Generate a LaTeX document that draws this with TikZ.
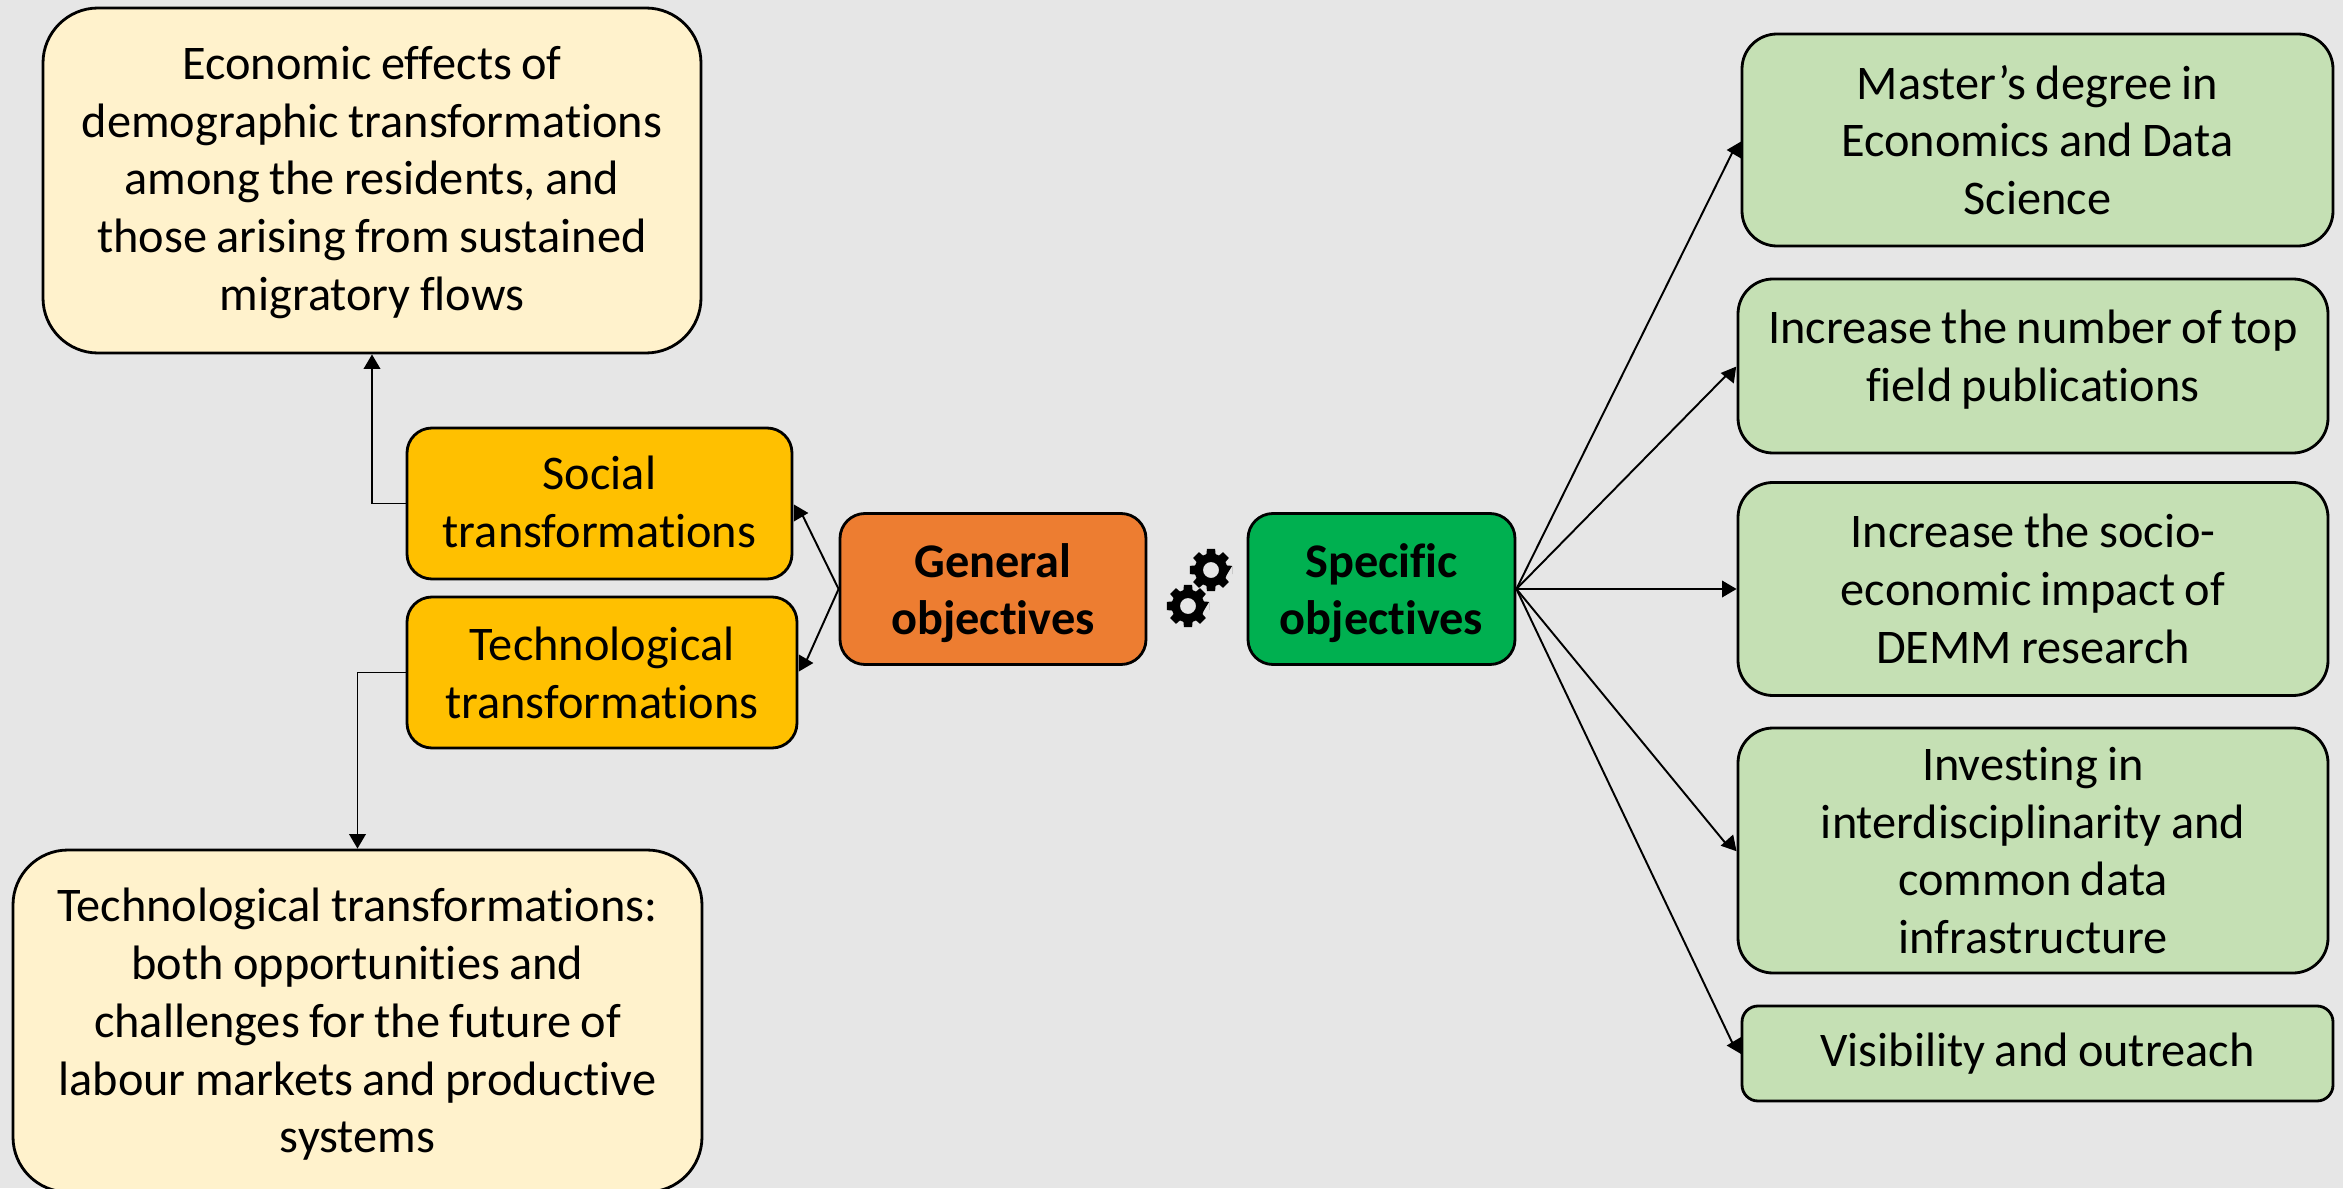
\documentclass[tikz,border=0pt]{standalone}
\usepackage{fontspec}
\setmainfont[Ligatures=CommonOff,WordSpace=0.85]{Carlito}
\usetikzlibrary{calc,arrows.meta,shapes.misc}

\definecolor{bggray}{HTML}{E6E6E6}
\definecolor{creambox}{HTML}{FFF2CC}
\definecolor{goldbox}{HTML}{FFC000}
\definecolor{orangebox}{HTML}{ED7D31}
\definecolor{greenbox}{HTML}{00B050}
\definecolor{palegreen}{HTML}{C5E0B4}

% invisible rules that nudge a text up or down in its box
\newcommand{\tall}[1]{\rule{0pt}{#1pt}}
\newcommand{\deep}[1]{\rule[-#1pt]{0pt}{#1pt}}

\begin{document}
\begin{tikzpicture}[
        box/.style={
            draw=black, line width=0.8pt, rectangle, rounded corners=#1,
            inner sep=0pt, align=center, text=black,
            font=\fontsize{13.75}{16.45}\selectfont
        },
        box/.default=0.25cm,
        theme/.style={box=0.55cm, fill=creambox},
        sub/.style={box=0.25cm, fill=goldbox},
        goal/.style={box=0.35cm, fill=palegreen},
        link/.style={line width=0.55pt, black, -{Triangle[length=1.45mm,width=1.65mm]}},
        gear/.pic={
            \fill[even odd rule] (11:0.215)
              \foreach \a in {0,45,...,315} {
                -- (\a-11:0.215) -- (\a+11:0.215) -- (\a+16:0.165) -- (\a+29:0.165)
              } -- cycle (0,0) circle (0.08);
        }
      ]

  \fill[bggray] (0,0) rectangle (23.43,11.88);
  \useasboundingbox (0,0) rectangle (23.43,11.88);

  \node[theme, minimum width=6.58cm, minimum height=3.45cm] (econ) at (3.72,10.075)
    {\tall{10.6}Economic effects of\\demographic transformations\\among the residents, and\\those arising from sustained\\migratory flows};
  \node[theme, minimum width=6.89cm, minimum height=3.42cm] (techtext) at (3.575,1.67)
    {\tall{11.5}Technological transformations:\\both opportunities and\\challenges for the future of\\labour markets and productive\\systems};

  \node[sub, minimum width=3.85cm, minimum height=1.51cm] (social) at (5.995,6.845) {Social\\transformations\deep{0.95}};
  \node[sub, minimum width=3.90cm, minimum height=1.51cm] (tech) at (6.02,5.155) {Technological\\transformations};

  \node[box, fill=orangebox, minimum width=3.06cm, minimum height=1.51cm] (general) at (9.93,5.99) {\tall{12.0}\textbf{General}\\\textbf{objectives}};
  \node[box, fill=greenbox, minimum width=2.67cm, minimum height=1.51cm] (specific) at (13.815,5.99) {\tall{12.0}\textbf{Specific}\\\textbf{objectives}};

  \node[goal, minimum width=5.91cm, minimum height=2.12cm] (master) at (20.375,10.48) {Master’s degree in\\Economics and Data\\Science};
  \node[goal, minimum width=5.90cm, minimum height=1.74cm] (topfield) at (20.33,8.22) {Increase the number of top\\field publications\deep{6}};
  \node[goal, minimum width=5.90cm, minimum height=2.13cm] (impact) at (20.33,5.99) {Increase the socio-\\economic impact of\\DEMM research};
  \node[goal, minimum width=5.90cm, minimum height=2.45cm] (invest) at (20.33,3.375) {Investing in\\interdisciplinarity and\\common data\\infrastructure};
  \node[box=0.16cm, fill=palegreen, minimum width=5.91cm, minimum height=0.95cm] (visible) at (20.375,1.345) {Visibility and outreach};

  \pic at (12.11,6.18) {gear};
  \pic at (11.88,5.82) {gear};

  \draw[link] (social.west) -| (econ.south);
  \draw[link] (tech.west) -| (techtext.north);

  \draw[link] (general.west) -- ($(social.east)+(0.08,-0.095)$) -- ++(0.07,0);
  \draw[link] (general.west) -- ($(tech.east)+(0.07,0.095)$) -- ++(0.08,0);

  \draw[link] (specific.east) -- ($(master.west)+(-0.07,-0.10)$) -- ++(-0.07,0);
  \draw[link] (specific.east) -- ($(topfield.west)+(-0.09,-0.08)$) -- ++(-0.07,0.01);
  \draw[link] (specific.east) -- (impact.west);
  \draw[link] (specific.east) -- ($(invest.west)+(-0.10,0.06)$) -- ++(-0.06,-0.012);
  \draw[link] (specific.east) -- ($(visible.west)+(-0.07,0.08)$) -- ++(-0.07,0);
\end{tikzpicture}
\end{document}
